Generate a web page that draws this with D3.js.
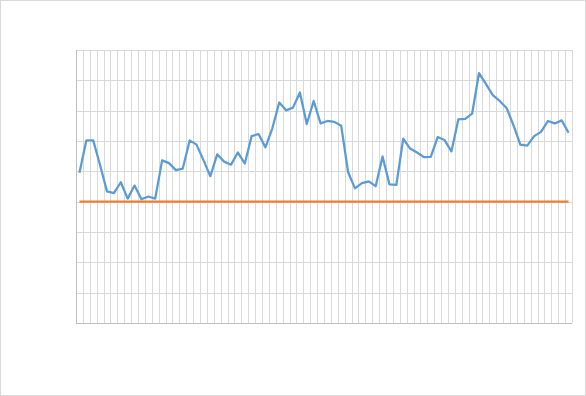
<!DOCTYPE html>
<html>
<head>
<meta charset="utf-8">
<script src="https://cdn.jsdelivr.net/npm/d3@7"></script>
<style>
  body { margin: 0; background: #fff; }
  svg { display: block; font-family: Calibri, "Liberation Sans", sans-serif; }
</style>
</head>
<body>
<div id="chart"></div>
<script>
// data
var valores = [49.5, 60.2, 60.2, 52, 43.4, 42.8, 46.4, 41.0, 45.3, 40.8,
  41.7, 41.0, 53.6, 52.7, 50.4, 50.9, 60.2, 58.8, 53.7, 48.4,
  55.6, 53.2, 52.2, 56.2, 52.6, 61.6, 62.3, 57.9, 64.2, 72.7,
  70.1, 71.0, 76.0, 65.6, 73.2, 65.8, 66.6, 66.3, 65.0, 49.7,
  44.4, 46.1, 46.7, 45.1, 54.9, 45.7, 45.5, 60.8, 57.5, 56.2,
  54.7, 54.8, 61.3, 60.3, 56.6, 67.1, 67.3, 69.0, 82.4, 78.8,
  75.1, 73.2, 70.9, 65.2, 58.8, 58.5, 61.6, 63.0, 66.6, 65.8,
  66.8, 62.7];
var limite = valores.map(function() { return 40; });
var categorias = d3.range(1, valores.length + 1);
var ticksY = d3.range(0, 91, 10);

var width = 586, height = 396;
var margin = { top: 50, right: 14, bottom: 73, left: 76 };

var svg = d3.select("#chart").append("svg")
  .attr("width", width)
  .attr("height", height);

// borde del grafico
svg.append("rect")
  .attr("x", 0.5).attr("y", 0.5)
  .attr("width", width - 1).attr("height", height - 1)
  .attr("fill", "#fff")
  .attr("stroke", "#d9d9d9");

var x = d3.scaleBand()
  .domain(categorias)
  .range([margin.left, width - margin.right])
  .padding(0);

var y = d3.scaleLinear()
  .domain([0, 90])
  .range([height - margin.bottom, margin.top]);

var g = svg.append("g");

// lineas verticales entre categorias
g.selectAll("line.vgrid")
  .data(categorias)
  .enter()
  .append("line")
  .attr("class", "vgrid")
  .attr("x1", function(d) { return Math.round(x(d) + x.bandwidth()) + 0.5; })
  .attr("x2", function(d) { return Math.round(x(d) + x.bandwidth()) + 0.5; })
  .attr("y1", y(90))
  .attr("y2", y(0))
  .attr("stroke", "#d9d9d9")
  .attr("stroke-width", 1);

// lineas horizontales
g.selectAll("line.hgrid")
  .data(ticksY)
  .enter()
  .append("line")
  .attr("class", "hgrid")
  .attr("x1", x.range()[0])
  .attr("x2", x.range()[1])
  .attr("y1", function(d) { return Math.round(y(d)) + 0.5; })
  .attr("y2", function(d) { return Math.round(y(d)) + 0.5; })
  .attr("stroke", "#d9d9d9")
  .attr("stroke-width", 1);

// ejes
g.append("line")
  .attr("x1", x.range()[0] + 0.5).attr("x2", x.range()[0] + 0.5)
  .attr("y1", y(90)).attr("y2", y(0))
  .attr("stroke", "#bfbfbf");
g.append("line")
  .attr("x1", x.range()[0]).attr("x2", x.range()[1])
  .attr("y1", Math.round(y(0)) + 0.5).attr("y2", Math.round(y(0)) + 0.5)
  .attr("stroke", "#bfbfbf");

var linea = d3.line()
  .x(function(d, i) { return x(categorias[i]) + x.bandwidth() / 2; })
  .y(function(d) { return y(d); });

svg.append("path")
  .datum(limite)
  .attr("d", linea)
  .attr("fill", "none")
  .attr("stroke", "#ed7d31")
  .attr("stroke-width", 2.25);

svg.append("path")
  .datum(valores)
  .attr("d", linea)
  .attr("fill", "none")
  .attr("stroke", "#5b9bd5")
  .attr("stroke-width", 2.25)
  .attr("stroke-linejoin", "round");
</script>
</body>
</html>
